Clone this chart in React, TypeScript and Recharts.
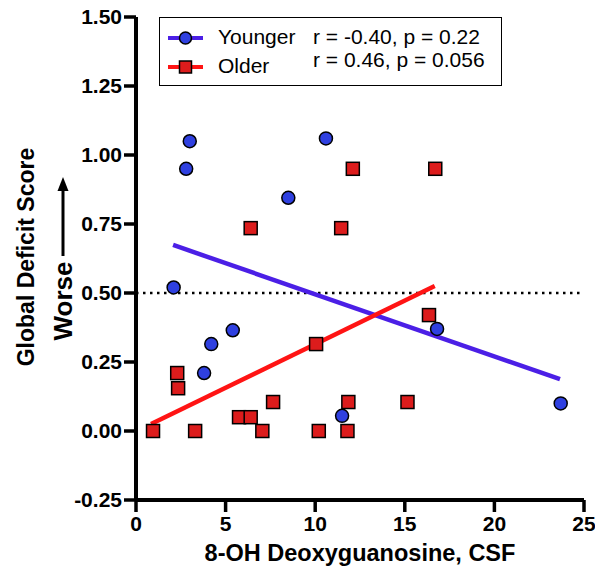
import React from 'react';
import { ScatterChart, Scatter, XAxis, YAxis, ReferenceLine } from 'recharts';

const xTicks = [0, 5, 10, 15, 20, 25];
const yTicks = [-0.25, 0, 0.25, 0.5, 0.75, 1.0, 1.25, 1.5];

const youngerX = [2.1, 2.8, 3.0, 3.8, 4.2, 5.4, 8.5, 10.6, 11.5, 16.8, 23.7];
const youngerY = [0.52, 0.95, 1.05, 0.21, 0.315, 0.365, 0.845, 1.06, 0.055, 0.37, 0.1];

const olderX = [0.95, 2.3, 2.35, 3.3, 5.75, 6.4, 6.4, 7.05, 7.65, 10.05, 10.2, 11.45, 11.8, 11.85, 12.1, 15.15, 16.35, 16.7];
const olderY = [0, 0.21, 0.155, 0, 0.05, 0.05, 0.735, 0, 0.105, 0.315, 0, 0.735, 0, 0.105, 0.95, 0.105, 0.42, 0.95];

const youngerFitX = [2.07, 23.66];
const youngerFitY = [0.674, 0.188];
const olderFitX = [0.84, 16.67];
const olderFitY = [0.025, 0.525];

const youngerStat = 'r = -0.40, p = 0.22';
const olderStat = 'r = 0.46, p = 0.056';

const zip = (xs: number[], ys: number[]) => xs.map((x, i) => ({ x, y: ys[i] }));

const younger = zip(youngerX, youngerY);
const older = zip(olderX, olderY);
const youngerFit = zip(youngerFitX, youngerFitY);
const olderFit = zip(olderFitX, olderFitY);

const FONT = '"Liberation Sans", Arial, Helvetica, sans-serif';
const BLUE_LINE = '#4b1fe6';
const BLUE_FILL = '#2f40e0';
const RED_LINE = '#ff1414';
const RED_FILL = '#dc1c1c';

const CircleShape = (props: any) => {
  const { cx, cy } = props;
  if (cx == null || cy == null) return <g />;
  return <circle cx={cx} cy={cy} r={6.5} fill={BLUE_FILL} stroke="#000" strokeWidth={1.5} />;
};

const SquareShape = (props: any) => {
  const { cx, cy } = props;
  if (cx == null || cy == null) return <g />;
  return <rect x={cx - 6.5} y={cy - 6.5} width={13} height={13} fill={RED_FILL} stroke="#000" strokeWidth={1.5} />;
};

const NoShape = () => <g />;

const YTitle = () => (
  <g fontFamily={FONT} fontWeight="bold" fill="#000">
    <text x={26} y={257} transform="rotate(-90, 26, 257)" textAnchor="middle" dominantBaseline="central" fontSize={23}>
      Global Deficit Score
    </text>
    <text x={63} y={301} transform="rotate(-90, 63, 301)" textAnchor="middle" dominantBaseline="central" fontSize={26}>
      Worse
    </text>
    <line x1={63} y1={256} x2={63} y2={188} stroke="#000" strokeWidth={3} />
    <polygon points="63,177 57.5,191 68.5,191" fill="#000" />
  </g>
);

const XTitle = () => (
  <text x={360} y={553} textAnchor="middle" dominantBaseline="central" fontFamily={FONT} fontWeight="bold" fontSize={23.5} fill="#000">
    8-OH Deoxyguanosine, CSF
  </text>
);

const LegendBox = () => (
  <div
    style={{
      position: 'absolute',
      left: 159,
      top: 17,
      width: 343,
      height: 69,
      boxSizing: 'border-box',
      border: '1.5px solid #000',
      background: '#fff',
      fontFamily: FONT,
      fontSize: 21,
      color: '#000',
    }}
  >
    <svg width={40} height={69} style={{ position: 'absolute', left: 6, top: 0 }}>
      <line x1={2} y1={20} x2={37} y2={20} stroke={BLUE_LINE} strokeWidth={4} />
      <circle cx={19.5} cy={20} r={6} fill={BLUE_FILL} stroke="#000" strokeWidth={1.5} />
      <line x1={2} y1={49} x2={37} y2={49} stroke={RED_LINE} strokeWidth={4} />
      <rect x={13.5} y={43} width={12} height={12} fill={RED_FILL} stroke="#000" strokeWidth={1.5} />
    </svg>
    <div style={{ position: 'absolute', left: 58, top: 7, lineHeight: '24px' }}>Younger</div>
    <div style={{ position: 'absolute', left: 58, top: 36, lineHeight: '24px' }}>Older</div>
    <div style={{ position: 'absolute', left: 153, top: 7, lineHeight: '23px', whiteSpace: 'nowrap' }}>
      <div>{youngerStat}</div>
      <div>{olderStat}</div>
    </div>
  </div>
);

export default function App() {
  return (
    <div style={{ position: 'absolute', left: 0, top: 0, width: 595, height: 579, background: '#fff' }}>
      <ScatterChart width={595} height={579} margin={{ top: 17, right: 11, bottom: 0, left: 0 }}>
        <XAxis
          type="number"
          dataKey="x"
          domain={[0, 25]}
          ticks={xTicks}
          allowDataOverflow
          height={79}
          axisLine={{ stroke: '#000', strokeWidth: 4 }}
          tickLine={{ stroke: '#000', strokeWidth: 3.5 }}
          tickSize={12}
          tickMargin={4}
          tick={{ fill: '#000', fontSize: 21, fontWeight: 'bold', fontFamily: FONT }}
          label={<XTitle />}
        />
        <YAxis
          type="number"
          dataKey="y"
          domain={[-0.25, 1.5]}
          ticks={yTicks}
          allowDataOverflow
          width={136}
          axisLine={{ stroke: '#000', strokeWidth: 4 }}
          tickLine={{ stroke: '#000', strokeWidth: 3.5 }}
          tickSize={12}
          tickMargin={2}
          tickFormatter={(v: number) => v.toFixed(2)}
          tick={{ fill: '#000', fontSize: 21, fontWeight: 'bold', fontFamily: FONT }}
          label={<YTitle />}
        />
        <ReferenceLine y={0.5} stroke="#000" strokeWidth={2.5} strokeDasharray="2.5 4.5" />
        <Scatter data={youngerFit} line={{ stroke: BLUE_LINE, strokeWidth: 4.5 }} shape={NoShape} isAnimationActive={false} legendType="none" />
        <Scatter data={olderFit} line={{ stroke: RED_LINE, strokeWidth: 4.5 }} shape={NoShape} isAnimationActive={false} legendType="none" />
        <Scatter data={younger} shape={CircleShape} isAnimationActive={false} />
        <Scatter data={older} shape={SquareShape} isAnimationActive={false} />
      </ScatterChart>
      <LegendBox />
    </div>
  );
}
